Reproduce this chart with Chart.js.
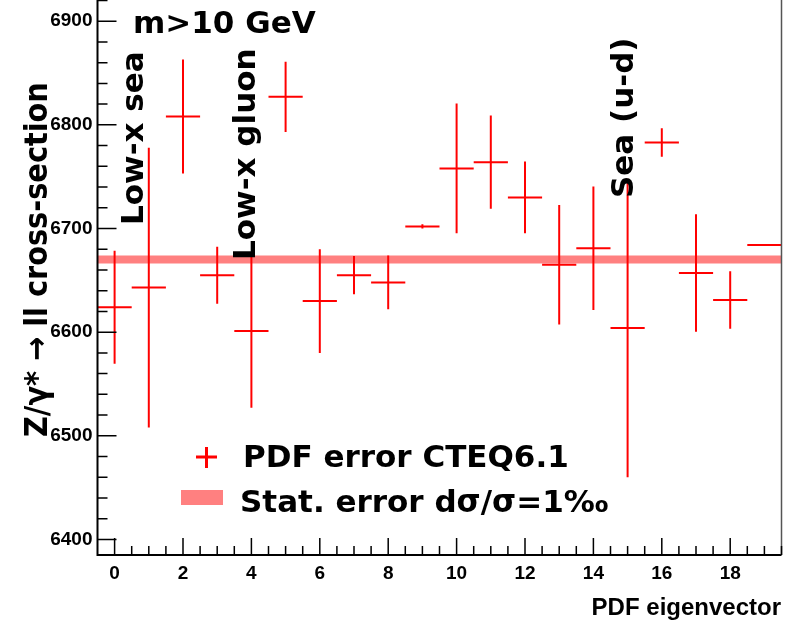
<!DOCTYPE html>
<html>
<head>
<meta charset="utf-8">
<script src="https://cdn.jsdelivr.net/npm/chart.js@4"></script>
<style>
  body { margin: 0; background: #fff; }
  canvas { display: block; }
</style>
</head>
<body>
<canvas id="pdf-chart" width="790" height="621"></canvas>
<script>
// Cross-section per PDF eigenvector, with PDF error bars
const eigen = [0, 1, 2, 3, 4, 5, 6, 7, 8, 9, 10, 11, 12, 13, 14, 15, 16, 17, 18, 19];
const xsec = [6624, 6643, 6808, 6655, 6601, 6827, 6630, 6655, 6648, 6702,
              6758, 6764, 6730, 6665, 6681, 6604, 6783, 6657, 6631, 6684];
const pdfErr = [54.5, 135, 55, 27.5, 74, 34, 50, 18.5, 26, 2,
                62.5, 45, 34.6, 57.7, 59.6, 144, 13.7, 56.7, 27.8, 0.5];
// statistical error band (1 permille)
const statValue = 6670;
const xTicks = [0, 2, 4, 6, 8, 10, 12, 14, 16, 18];
const yTicks = [6400, 6500, 6600, 6700, 6800, 6900];

const boldFont = "'DejaVu Sans', sans-serif";
const axisFont = "'Liberation Sans', Arial, sans-serif";

// ROOT-like frame, inward ticks, annotations and legend
const rootStyle = {
    id: 'rootStyle',
    afterDatasetsDraw(chart) {
        const { ctx, chartArea: a, scales: { x, y } } = chart;
        ctx.save();
        ctx.beginPath();
        ctx.rect(a.left, a.top, a.width, a.height);
        ctx.clip();
        ctx.strokeStyle = '#ff0000';
        ctx.lineWidth = 2;
        eigen.forEach((e, i) => {
            const px = x.getPixelForValue(e);
            const py = y.getPixelForValue(xsec[i]);
            ctx.beginPath();
            ctx.moveTo(x.getPixelForValue(e - 0.5), py);
            ctx.lineTo(x.getPixelForValue(e + 0.5), py);
            ctx.moveTo(px, y.getPixelForValue(xsec[i] + pdfErr[i]));
            ctx.lineTo(px, y.getPixelForValue(xsec[i] - pdfErr[i]));
            ctx.stroke();
        });
        ctx.restore();
    },
    afterDraw(chart) {
        const { ctx, chartArea: a, scales: { x, y } } = chart;
        ctx.save();

        // frame
        ctx.strokeStyle = '#000';
        ctx.lineWidth = 2;
        ctx.beginPath();
        ctx.moveTo(a.left, 0);
        ctx.lineTo(a.left, a.bottom);
        ctx.lineTo(a.right, a.bottom);
        ctx.stroke();
        ctx.lineWidth = 1.5;
        ctx.strokeStyle = '#555';
        ctx.beginPath();
        ctx.moveTo(a.right, 0);
        ctx.lineTo(a.right, a.bottom);
        ctx.stroke();

        // ticks
        ctx.strokeStyle = '#000';
        ctx.lineWidth = 1.5;
        ctx.beginPath();
        for (let v = 0; v <= 19.5; v += 0.5) {
            const px = x.getPixelForValue(v);
            const len = xTicks.includes(v) ? 17 : 9;
            ctx.moveTo(px, a.bottom);
            ctx.lineTo(px, a.bottom - len);
        }
        for (let v = 6400; v <= 6920; v += 20) {
            const py = y.getPixelForValue(v);
            const len = yTicks.includes(v) ? 19 : 10;
            ctx.moveTo(a.left, py);
            ctx.lineTo(a.left + len, py);
        }
        ctx.stroke();

        ctx.fillStyle = '#000';
        ctx.textBaseline = 'alphabetic';

        // axis titles
        ctx.font = "bold 24px " + axisFont;
        ctx.textAlign = 'right';
        ctx.fillText('PDF eigenvector', 781, 615);

        ctx.save();
        ctx.translate(46.5, 437);
        ctx.rotate(-Math.PI / 2);
        ctx.textAlign = 'left';
        ctx.font = "bold 32px 'DejaVu Sans Condensed', " + boldFont;
        ctx.fillText('Z/\u03b3* \u2192 ll cross-section', 0, 0);
        ctx.restore();

        // annotations
        ctx.textAlign = 'left';
        ctx.font = "bold 31px " + boldFont;
        ctx.fillText('m>10 GeV', 133, 33);

        const vertical = (text, bx, by) => {
            ctx.save();
            ctx.translate(bx, by);
            ctx.rotate(-Math.PI / 2);
            ctx.fillText(text, 0, 0);
            ctx.restore();
        };
        vertical('Low-x sea', 143, 225);
        vertical('Low-x gluon', 255, 260);
        vertical('Sea (u-d)', 633, 198);

        // legend
        ctx.strokeStyle = '#ff0000';
        ctx.lineWidth = 3;
        ctx.beginPath();
        ctx.moveTo(196, 457);
        ctx.lineTo(217, 457);
        ctx.moveTo(206.5, 447);
        ctx.lineTo(206.5, 468);
        ctx.stroke();
        ctx.fillStyle = '#ff8080';
        ctx.fillRect(181, 490, 42, 15);

        ctx.fillStyle = '#000';
        ctx.fillText('PDF error CTEQ6.1', 243, 467);
        ctx.fillText('Stat. error d\u03c3/\u03c3=1\u2030', 240, 512);

        ctx.restore();
    }
};

const points = eigen.map((e, i) => ({ x: e, y: xsec[i] }));
const band = [{ x: -0.5, y: statValue }, { x: 19.5, y: statValue }];

new Chart(document.getElementById('pdf-chart').getContext('2d'), {
    type: 'scatter',
    data: {
        datasets: [{
            label: 'PDF error CTEQ6.1',
            data: points,
            pointRadius: 0,
            borderColor: '#ff0000'
        }, {
            type: 'line',
            label: 'Stat. error',
            data: band,
            borderColor: '#ff8080',
            borderWidth: 8,
            pointRadius: 0,
            fill: false
        }]
    },
    options: {
        responsive: false,
        animation: false,
        layout: {
            autoPadding: false,
            padding: { top: 0, right: 8.5, left: 0, bottom: 0 }
        },
        plugins: {
            legend: { display: false },
            tooltip: { enabled: false }
        },
        scales: {
            x: {
                type: 'linear',
                min: -0.5,
                max: 19.5,
                afterBuildTicks: (scale) => { scale.ticks = xTicks.map(v => ({ value: v })); },
                afterFit: (scale) => { scale.height = 66; },
                grid: { display: false, drawTicks: false },
                border: { display: false },
                ticks: {
                    padding: 7,
                    color: '#000',
                    maxRotation: 0,
                    autoSkip: false,
                    callback: (v) => String(v),
                    font: { family: axisFont, size: 19, weight: 'bold' }
                }
            },
            y: {
                type: 'linear',
                min: 6385,
                max: 6920,
                afterBuildTicks: (scale) => { scale.ticks = yTicks.map(v => ({ value: v })); },
                afterFit: (scale) => { scale.width = 97.5; },
                // tick marks are drawn by the plugin; tickLength only spaces the labels
                grid: { display: false, drawTicks: true, tickLength: 5 },
                border: { display: false },
                ticks: {
                    padding: 0,
                    color: '#000',
                    autoSkip: false,
                    callback: (v) => String(v),
                    font: { family: axisFont, size: 19, weight: 'bold', lineHeight: 0.05 }
                }
            }
        }
    },
    plugins: [rootStyle]
});
</script>
</body>
</html>
